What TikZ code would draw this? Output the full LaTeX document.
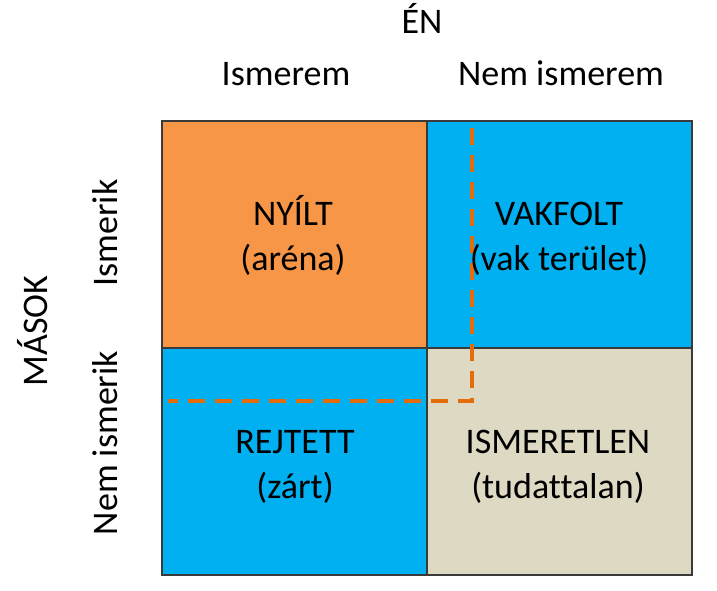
\documentclass[tikz,border=0pt]{standalone}
\usepackage{fontspec}
\setmainfont[Ligatures={NoCommon}]{Carlito}
\definecolor{cOrange}{HTML}{F79646}
\definecolor{cBlue}{HTML}{00B0F0}
\definecolor{cBeige}{HTML}{DDD9C3}
\definecolor{cDash}{HTML}{E46C0A}
\definecolor{cEdge}{HTML}{3A3A3A}
\begin{document}
\begin{tikzpicture}[x=1pt,y=-1pt,
  every node/.style={font=\fontsize{36}{43}\selectfont, inner sep=0pt, outer sep=0pt},
  cell/.style={draw=cEdge, line width=1.3pt, minimum width=265pt, minimum height=227pt, anchor=north west},
  lbl/.style={anchor=base, text=black},
  vlbl/.style={anchor=base, rotate=90, text=black},
  window/.style={draw=cDash, line width=3.6pt, dash pattern=on 17pt off 10pt}]
\useasboundingbox (0,0) rectangle (717,590);
% cells
\node[cell, fill=cOrange] (open) at (162,121) {};
\node[cell, fill=cBlue] (blind) at (427,121) {};
\node[cell, fill=cBlue] (hidden) at (162,348) {};
\node[cell, fill=cBeige] (unknown) at (427,348) {};
% dashed window
\coordinate (d1) at (472,128);
\coordinate (d2) at (472,401);
\coordinate (d3) at (168,401);
\draw[window] (d1) -- (d2) -- (d3);
% headings
\node[lbl] (en) at (422,33) {ÉN};
\node[lbl] (ism) at (286,85) {Ismerem};
\node[lbl] (nism) at (561,85) {Nem ismerem};
\node[vlbl] (masok) at (47,331) {MÁSOK};
\node[vlbl] (iszk) at (117,233) {Ismerik};
\node[vlbl] (niszk) at (117,443) {Nem ismerik};
% cell texts
\node[lbl] (t1a) at (293,225) {NYÍLT};
\node[lbl] (t1b) at (293,270) {(aréna)};
\node[lbl] (t2a) at (559,225) {VAKFOLT};
\node[lbl] (t2b) at (559,270) {(vak terület)};
\node[lbl] (t3a) at (295,453) {REJTETT};
\node[lbl] (t3b) at (295,498) {(zárt)};
\node[lbl] (t4a) at (558,453) {ISMERETLEN};
\node[lbl] (t4b) at (558,498) {(tudattalan)};
\end{tikzpicture}
\end{document}
